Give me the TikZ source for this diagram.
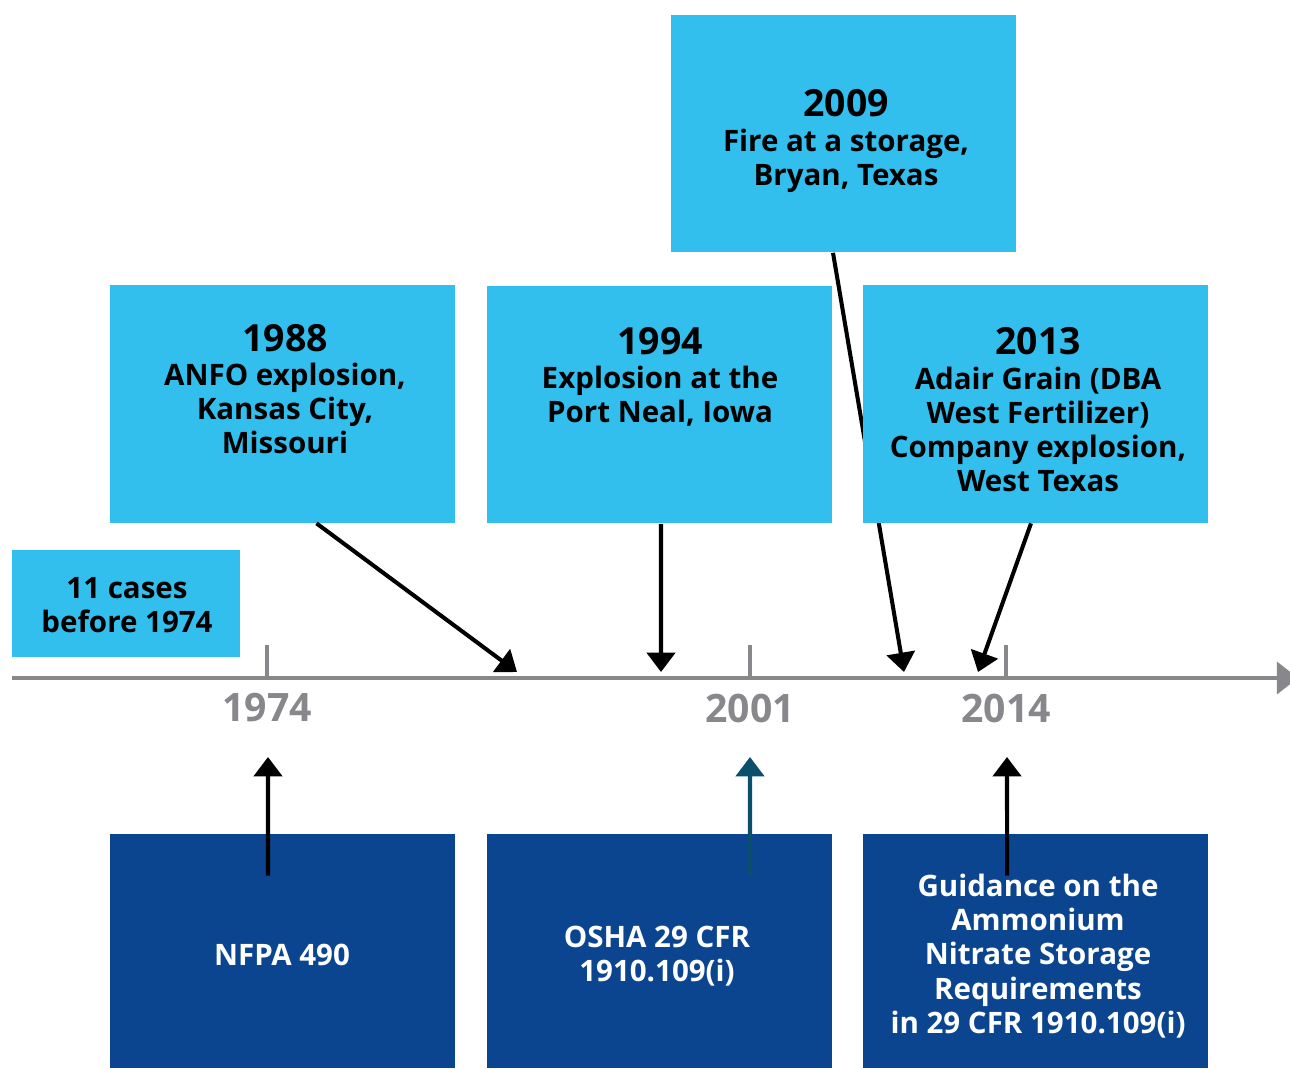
\documentclass[tikz,border=0pt]{standalone}
\usepackage{fontspec}
\setmainfont{Open Sans}
\usetikzlibrary{arrows.meta}
\definecolor{skyblue}{HTML}{32BFEE}
\definecolor{navyblue}{HTML}{0B4590}
\definecolor{axisgray}{HTML}{88888C}
\definecolor{tealblue}{HTML}{0B4F6C}
\newcommand{\yearhead}[1]{{\fontsize{21.3}{24}\selectfont #1}}
\tikzset{
  event/.style={fill=skyblue, minimum width=6.9cm, minimum height=4.76cm, inner sep=0pt},
  rule/.style={fill=navyblue, minimum width=6.9cm, minimum height=4.68cm, inner sep=0pt},
  evtext/.style={align=center, font=\bfseries\fontsize{16.8}{19.5}\selectfont, inner sep=0pt},
  ruletext/.style={evtext, text=white},
  yearlabel/.style={text=axisgray, font=\bfseries\fontsize{22.3}{26}\selectfont},
  pointer/.style={line width=2.3pt, -{Triangle[width=16pt,length=11pt]}},
}
\begin{document}
\begin{tikzpicture}[x=0.02cm, y=-0.02cm]
  \useasboundingbox (0,0) rectangle (1290,1068);
  % time axis
  \coordinate (start) at (12,678);
  \coordinate (end) at (1298,678);
  \draw[axisgray, line width=2.8pt, -{Triangle[width=18pt,length=12pt]}] (start) -- (end);
  \foreach \x/\yr in {267/1974, 750/2001, 1006/2014}{
    \draw[axisgray, line width=2.3pt] (\x,645) -- (\x,678);
    \node[yearlabel] (y\yr) at (\x,708) {\yr};
  }
  % events above the axis
  \node[event, minimum width=4.56cm, minimum height=2.14cm] (early) at (126,603.5)
    {}; 
  \node[evtext] (tearly) at (127,605) {11 cases\\before 1974};
  \node[event] (b1988) at (282.5,404) {};
  \node[evtext] (t1988) at (285,389) {\yearhead{1988}\\ANFO explosion,\\Kansas City,\\Missouri};
  \node[event] (b1994) at (659.5,404.5) {};
  \node[evtext] (t1994) at (660,377) {\yearhead{1994}\\Explosion at the\\Port Neal, Iowa};
  \node[event] (b2009) at (843.5,133.5) {};
  \node[evtext] (t2009) at (846,141) {\yearhead{2009}\\Fire at a storage,\\Bryan, Texas};
  \coordinate (a2009) at (904,672);
  \draw[pointer] ([xshift=-0.21cm]b2009.south) -- (a2009);
  \node[event] (b2013) at (1035.5,404) {};
  \node[evtext] (t2013) at (1038,410) {\yearhead{2013}\\Adair Grain (DBA\\West Fertilizer)\\Company explosion,\\West Texas};
  % arrows down to the axis
  \coordinate (a1988) at (517,672);
  \coordinate (a1994) at (661,672);
  \coordinate (a2013) at (978,672);
  \draw[pointer] ([xshift=0.68cm]b1988.south) -- (a1988);
  \draw[pointer] ([xshift=0.03cm]b1994.south) -- (a1994);
  \draw[pointer] ([xshift=-0.09cm]b2013.south) -- (a2013);
  % rules below the axis
  \node[rule] (n490) at (282.5,951) {};
  \node[ruletext] at (282,955) {NFPA 490};
  \node[rule] (osha) at (659.5,951) {};
  \node[ruletext] at (657,956) {OSHA 29 CFR\\1910.109(i)};
  \node[rule] (guide) at (1035.5,951) {};
  \node[ruletext] at (1038,956) {Guidance on the\\Ammonium\\Nitrate Storage\\Requirements\\in 29 CFR 1910.109(i)};
  \coordinate (u1974) at (268,757);
  \coordinate (u2001) at (750,757);
  \coordinate (u2014) at (1007,757);
  \draw[pointer] ([xshift=-0.29cm, yshift=-0.84cm]n490.north) -- (u1974);
  \draw[pointer, tealblue] ([xshift=1.81cm, yshift=-0.84cm]osha.north) -- (u2001);
  \draw[pointer] ([xshift=-0.57cm, yshift=-0.84cm]guide.north) -- (u2014);
\end{tikzpicture}
\end{document}
